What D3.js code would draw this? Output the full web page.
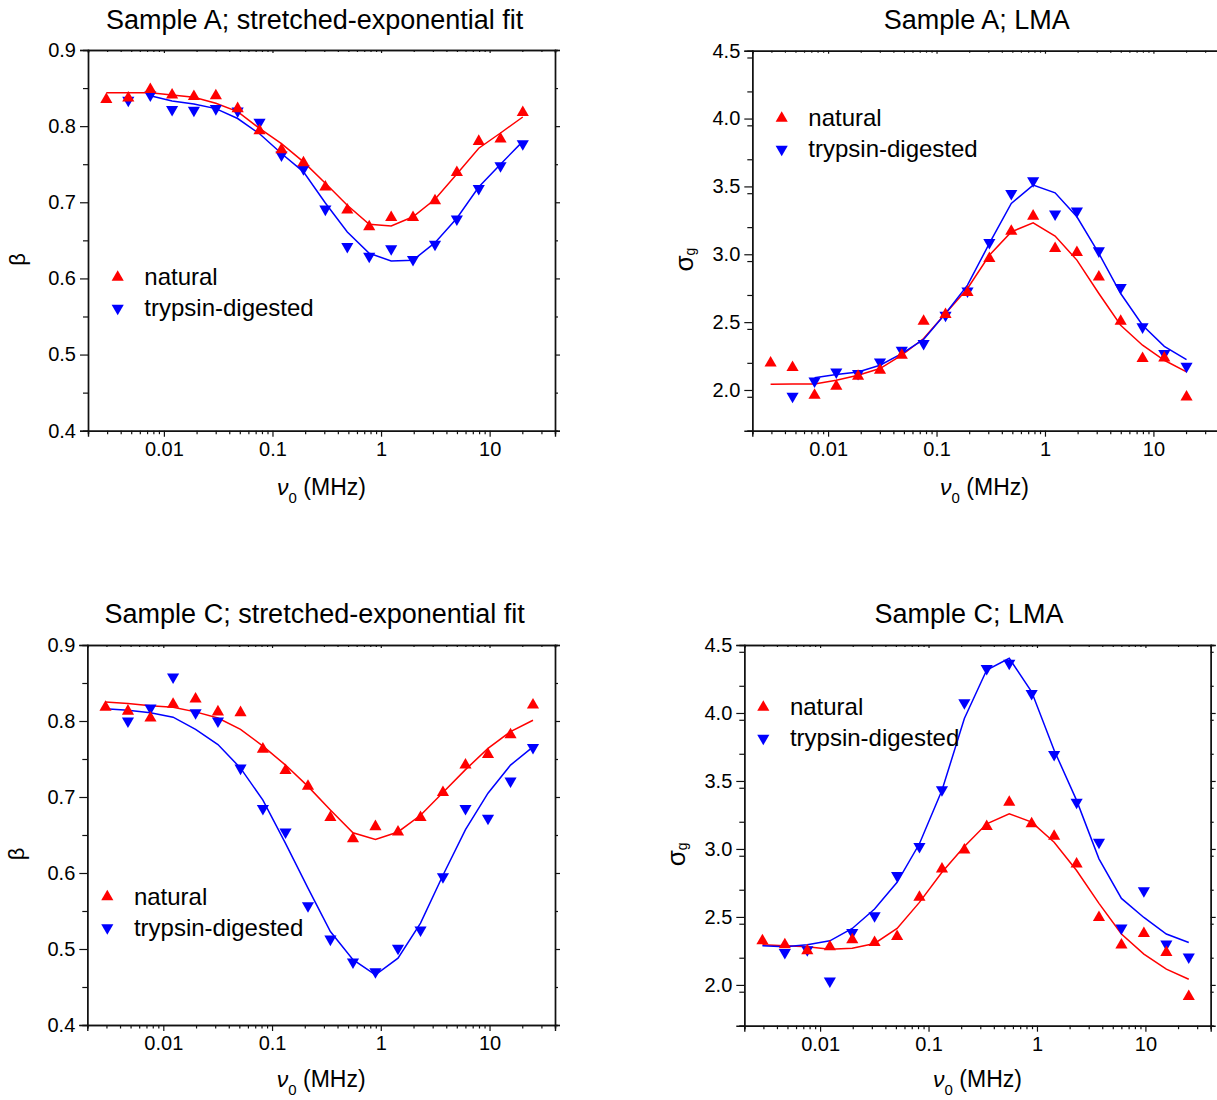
<!DOCTYPE html>
<html>
<head>
<meta charset="utf-8">
<script src="https://cdn.jsdelivr.net/npm/d3@7"></script>
<style>
  body { margin: 0; background: #fff; }
  svg { display: block; }
  text { font-family: "Liberation Sans", Arial, Helvetica, sans-serif; fill: #000; }
</style>
</head>
<body>
<svg id="chart" width="1217" height="1100"></svg>
<script>
// ---------- data ----------
const freqA = [0.00295, 0.0047, 0.0075, 0.0119, 0.0189, 0.0301, 0.0478, 0.076, 0.121, 0.193,
               0.307, 0.489, 0.778, 1.24, 1.97, 3.14, 4.99, 7.94, 12.6, 20.2];
const freqC = [0.00294, 0.00473, 0.00762, 0.0123, 0.0198, 0.0318, 0.0513, 0.0824, 0.133, 0.214,
               0.344, 0.555, 0.893, 1.44, 2.32, 3.73, 6.01, 9.68, 15.6, 25.1];

const seriesNames = ["natural", "trypsin-digested"];
const titles = ["Sample A; stretched-exponential fit", "Sample A; LMA",
                "Sample C; stretched-exponential fit", "Sample C; LMA"];
const xTickValues = [0.01, 0.1, 1, 10];
const xTickLabels = ["0.01", "0.1", "1", "10"];
const betaTicks = [0.4, 0.5, 0.6, 0.7, 0.8, 0.9];
const sigmaTicks = [2.0, 2.5, 3.0, 3.5, 4.0, 4.5];

// Sample A, beta
const betaNatA  = [0.835, 0.837, 0.848, 0.841, 0.839, 0.840, 0.823, 0.794, 0.769, 0.752,
                   0.720, 0.690, 0.668, 0.680, 0.680, 0.702, 0.739, 0.780, 0.783, 0.818];
const betaTrypA = [null, 0.834, 0.841, 0.822, 0.821, 0.823, 0.820, 0.805, 0.762, 0.744,
                   0.691, 0.642, 0.629, 0.639, 0.625, 0.645, 0.678, 0.718, 0.748, 0.777];
const betaNatFitA  = [0.844, 0.844, 0.844, 0.841, 0.838, 0.830, 0.819, 0.797, 0.777, 0.753,
                      0.725, 0.696, 0.671, 0.669, 0.681, 0.704, 0.737, 0.771, 0.791, 0.812];
const betaTrypFitA = [null, null, 0.840, 0.833, 0.829, 0.823, 0.810, 0.790, 0.764, 0.740,
                      0.699, 0.661, 0.633, 0.623, 0.624, 0.647, 0.679, 0.720, 0.750, 0.780];

// Sample A, sigma_g
const sigmaNatA  = [2.199, 2.165, 1.961, 2.027, 2.101, 2.145, 2.256, 2.507, 2.556, 2.718,
                    2.969, 3.170, 3.281, 3.043, 3.013, 2.833, 2.507, 2.232, 2.236, 1.948];
const sigmaTrypA = [null, 1.954, 2.066, 2.133, 2.121, 2.207, 2.293, 2.342, 2.551, 2.730,
                    3.087, 3.448, 3.541, 3.296, 3.318, 3.025, 2.755, 2.465, 2.268, 2.175];
const sigmaNatFitA  = [2.042, 2.045, 2.045, 2.072, 2.109, 2.158, 2.256, 2.379, 2.563, 2.748,
                       2.993, 3.165, 3.232, 3.134, 2.957, 2.711, 2.477, 2.330, 2.219, 2.133];
const sigmaTrypFitA = [null, null, 2.091, 2.114, 2.133, 2.182, 2.268, 2.372, 2.563, 2.772,
                       3.080, 3.375, 3.510, 3.453, 3.276, 3.006, 2.711, 2.477, 2.322, 2.224];

// Sample C, beta
const betaNatC  = [0.818, 0.813, 0.804, 0.822, 0.829, 0.812, 0.811, 0.763, 0.735, 0.714,
                   0.673, 0.645, 0.661, 0.654, 0.673, 0.706, 0.742, 0.756, 0.782, 0.821];
const betaTrypC = [null, 0.800, 0.817, 0.858, 0.811, 0.800, 0.738, 0.685, 0.654, 0.557,
                   0.513, 0.483, 0.470, 0.501, 0.525, 0.595, 0.685, 0.672, 0.721, 0.765];
const betaNatFitC  = [0.825, 0.823, 0.820, 0.818, 0.812, 0.804, 0.789, 0.767, 0.742, 0.714,
                      0.683, 0.653, 0.644, 0.654, 0.676, 0.706, 0.736, 0.764, 0.786, 0.801];
const betaTrypFitC = [0.816, 0.814, 0.811, 0.805, 0.789, 0.769, 0.738, 0.696, 0.639, 0.580,
                      0.523, 0.486, 0.466, 0.488, 0.534, 0.597, 0.657, 0.705, 0.742, 0.766];

// Sample C, sigma_g
const sigmaNatC  = [2.324, 2.295, 2.251, 2.280, 2.332, 2.312, 2.356, 2.644, 2.853, 2.993,
                    3.165, 3.344, 3.185, 3.094, 2.890, 2.496, 2.293, 2.378, 2.238, 1.914];
const sigmaTrypC = [null, 2.238, 2.258, 2.029, 2.386, 2.509, 2.804, 3.018, 3.436, 4.075,
                    4.328, 4.365, 4.144, 3.694, 3.344, 3.049, 2.418, 2.693, 2.300, 2.206];
const sigmaNatFitC  = [2.295, 2.288, 2.280, 2.263, 2.270, 2.305, 2.415, 2.607, 2.828, 3.018,
                       3.185, 3.259, 3.197, 3.049, 2.841, 2.600, 2.374, 2.227, 2.116, 2.042];
const sigmaTrypFitC = [2.288, 2.280, 2.295, 2.324, 2.415, 2.558, 2.755, 3.038, 3.431, 3.959,
                       4.316, 4.402, 4.156, 3.726, 3.357, 2.927, 2.636, 2.496, 2.374, 2.312];

// ---------- layout ----------
const RED = "#ff0000", BLUE = "#0000ff";
const panels = [
  { title: titles[0], L: 88,    R: 555,    T: 50,   B: 430.7,  tx: 314.7, ty: 29, xlOff: 64,
    kind: "beta", freq: freqA, nat: betaNatA, tryp: betaTrypA, natFit: betaNatFitA, trypFit: betaTrypFitA,
    leg: [117.7, 277.3] },
  { title: titles[1], L: 752.3, R: 1218.7, T: 50.7, B: 430.7,  tx: 976.7, ty: 29, xlOff: 64,
    kind: "sigma", freq: freqA, nat: sigmaNatA, tryp: sigmaTrypA, natFit: sigmaNatFitA, trypFit: sigmaTrypFitA,
    leg: [781.7, 118.3] },
  { title: titles[2], L: 87.3,  R: 555,    T: 645,  B: 1025,   tx: 314.7, ty: 623, xlOff: 62,
    kind: "beta", freq: freqC, nat: betaNatC, tryp: betaTrypC, natFit: betaNatFitC, trypFit: betaTrypFitC,
    leg: [107.3, 896.7] },
  { title: titles[3], L: 744.3, R: 1210.7, T: 645,  B: 1025.7, tx: 969,   ty: 623, xlOff: 61,
    kind: "sigma", freq: freqC, nat: sigmaNatC, tryp: sigmaTrypC, natFit: sigmaNatFitC, trypFit: sigmaTrypFitC,
    leg: [763.3, 707.3] }
];

const svg = d3.select("#chart");

// minor log ticks 2..9 per decade inside [0.002, 40]
const xMinor = [];
[-3, -2, -1, 0, 1].forEach(e => {
  for (let k = 2; k <= 9; k++) {
    const v = k * Math.pow(10, e);
    if (v >= 0.002 - 1e-12 && v <= 40 + 1e-9) xMinor.push(+v.toPrecision(3));
  }
});

const triUp = d3.symbol().type(d3.symbolTriangle).size(64)();

function styleAxis(g) {
  g.select(".domain").attr("stroke", "#111").attr("stroke-width", 1.4);
  g.selectAll(".tick line").attr("stroke", "#111").attr("stroke-width", 1.2);
  g.selectAll(".tick text").attr("font-size", 20).attr("fill", "#000")
    .attr("font-family", "Liberation Sans, Arial, sans-serif");
}

panels.forEach(p => {
  const x = d3.scaleLog().domain([0.002, 40]).range([p.L, p.R]);
  const yDom = p.kind === "beta" ? [0.4, 0.9] : [1.7, 4.5];
  const y = d3.scaleLinear().domain(yDom).range([p.B, p.T]);
  const yMajor = p.kind === "beta" ? betaTicks : sigmaTicks;
  const step = p.kind === "beta" ? 0.05 : 0.25;
  const yMinor = d3.range(yDom[0], yDom[1] + 1e-9, step).map(v => +v.toFixed(3))
    .filter(v => !yMajor.some(m => Math.abs(m - v) < 1e-6));

  const g = svg.append("g");

  // title
  g.append("text").attr("x", p.tx).attr("y", p.ty).attr("text-anchor", "middle")
    .attr("font-size", 27).text(p.title);

  // axes: bottom
  g.append("g").attr("transform", `translate(0,${p.B})`)
    .call(d3.axisBottom(x).tickValues(xMinor).tickFormat("").tickSize(3.5)).call(styleAxis);
  g.append("g").attr("transform", `translate(0,${p.B})`)
    .call(d3.axisBottom(x).tickValues(xTickValues).tickFormat((d, i) => xTickLabels[i])
      .tickSize(6).tickPadding(5)).call(styleAxis);
  // top (inward ticks)
  g.append("g").attr("transform", `translate(0,${p.T})`)
    .call(d3.axisTop(x).tickValues(xMinor).tickFormat("").tickSize(-2)).call(styleAxis);
  g.append("g").attr("transform", `translate(0,${p.T})`)
    .call(d3.axisTop(x).tickValues(xTickValues).tickFormat("").tickSize(-3)).call(styleAxis);
  // left
  g.append("g").attr("transform", `translate(${p.L},0)`)
    .call(d3.axisLeft(y).tickValues(yMinor).tickFormat("").tickSize(5)).call(styleAxis);
  g.append("g").attr("transform", `translate(${p.L},0)`)
    .call(d3.axisLeft(y).tickValues(yMajor).tickFormat(d3.format(".1f")).tickSize(8).tickPadding(4))
    .call(styleAxis);
  // right
  g.append("g").attr("transform", `translate(${p.R},0)`)
    .call(d3.axisRight(y).tickValues(yMinor).tickFormat("").tickSize(3)).call(styleAxis);
  g.append("g").attr("transform", `translate(${p.R},0)`)
    .call(d3.axisRight(y).tickValues(yMajor).tickFormat("").tickSize(5)).call(styleAxis);

  // x label
  const xl = g.append("text").attr("x", (p.L + p.R) / 2 + (p.R > 1212 ? -1 : 0)).attr("y", p.B + p.xlOff)
    .attr("text-anchor", "middle").attr("font-size", 23);
  xl.append("tspan").attr("font-style", "italic").text("\u03BD");
  xl.append("tspan").attr("font-size", 15).attr("dy", 8).text("0");
  xl.append("tspan").attr("dy", -8).text(" (MHz)");

  // y label
  const cy = (p.T + p.B) / 2 + 19;
  if (p.kind === "beta") {
    g.append("text").attr("transform", `translate(${p.L - 63},${cy}) rotate(-90)`)
      .attr("text-anchor", "middle").attr("font-size", 22).text("\u03B2");
  } else {
    const yl = g.append("text").attr("transform", `translate(${p.L - 59},${cy}) rotate(-90)`)
      .attr("text-anchor", "middle").attr("font-size", 26);
    yl.append("tspan").text("\u03C3");
    yl.append("tspan").attr("font-size", 14).attr("dy", 2).text("g");
  }

  // fit lines
  const line = d3.line().defined(d => d[1] != null).x(d => x(d[0])).y(d => y(d[1]));
  g.append("path").datum(p.freq.map((f, i) => [f, p.natFit[i]]))
    .attr("d", line).attr("fill", "none").attr("stroke", RED).attr("stroke-width", 1.5);
  g.append("path").datum(p.freq.map((f, i) => [f, p.trypFit[i]]))
    .attr("d", line).attr("fill", "none").attr("stroke", BLUE).attr("stroke-width", 1.5);

  // markers: trypsin (down), natural (up, on top)
  g.append("g").selectAll("path")
    .data(p.freq.map((f, i) => [f, p.tryp[i]]).filter(d => d[1] != null))
    .join("path").attr("d", triUp).attr("fill", BLUE)
    .attr("transform", d => `translate(${x(d[0])},${y(d[1])}) rotate(180)`);
  g.append("g").selectAll("path")
    .data(p.freq.map((f, i) => [f, p.nat[i]]).filter(d => d[1] != null))
    .join("path").attr("d", triUp).attr("fill", RED)
    .attr("transform", d => `translate(${x(d[0])},${y(d[1])})`);

  // legend
  const [lx, ly] = p.leg;
  const lg = g.append("g");
  lg.append("path").attr("d", triUp).attr("fill", RED).attr("transform", `translate(${lx},${ly})`);
  lg.append("path").attr("d", triUp).attr("fill", BLUE).attr("transform", `translate(${lx},${ly + 31}) rotate(180)`);
  lg.append("text").attr("x", lx + 26.6).attr("y", ly + 8).attr("font-size", 24).text(seriesNames[0]);
  lg.append("text").attr("x", lx + 26.6).attr("y", ly + 39).attr("font-size", 24).text(seriesNames[1]);
});
</script>
</body>
</html>
